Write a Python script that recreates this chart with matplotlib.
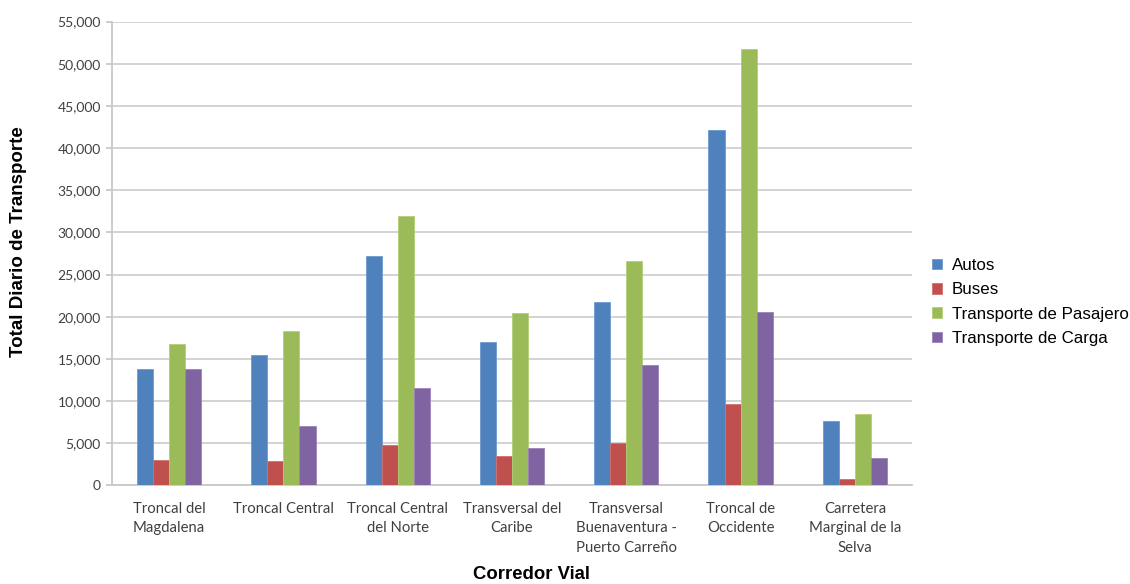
import matplotlib
matplotlib.use("Agg")
import matplotlib.pyplot as plt
import numpy as np
from matplotlib.ticker import FuncFormatter, MultipleLocator

# corredores viales y totales diarios por tipo de vehiculo
corredores = [
    "Troncal del\nMagdalena",
    "Troncal Central",
    "Troncal Central\ndel Norte",
    "Transversal del\nCaribe",
    "Transversal\nBuenaventura -\nPuerto Carreño",
    "Troncal de\nOccidente",
    "Carretera\nMarginal de la\nSelva",
]
autos = [13800, 15400, 27200, 17000, 21700, 42200, 7600]
buses = [3050, 2850, 4800, 3450, 5000, 9600, 750]
pasajero = [16750, 18300, 31950, 20400, 26600, 51750, 8450]
carga = [13800, 7000, 11600, 4400, 14250, 20500, 3250]

series = ["Autos", "Buses", "Transporte de Pasajero", "Transporte de Carga"]
colores = ["#4F81BD", "#C0504D", "#9BBB59", "#8064A2"]
bordes = ["#6F9BD1", "#D26F6C", "#B1CF77", "#9A82BA"]

fig = plt.figure(figsize=(11.3, 5.84), dpi=100)
ax = fig.add_axes([0.0991, 0.169, 0.708, 0.794])

x = np.arange(len(corredores))
ancho = 0.1406
for i, (vals, c, b, nombre) in enumerate(zip([autos, buses, pasajero, carga], colores, bordes, series)):
    ax.bar(x + (i - 1.5) * ancho, vals, ancho, color=c, edgecolor=b, linewidth=0.6,
           label=nombre, zorder=3)

ax.set_xlim(-0.5, len(corredores) - 0.5)
ax.set_ylim(0, 55000)
ax.yaxis.set_major_locator(MultipleLocator(5000))
ax.yaxis.set_major_formatter(FuncFormatter(lambda v, p: f"{int(v):,}"))
ax.grid(axis="y", color="#D0D0D0", linewidth=1.3, zorder=0)

for s in ["top", "right"]:
    ax.spines[s].set_visible(False)
for s in ["left", "bottom"]:
    ax.spines[s].set_color("#C8C8C8")
    ax.spines[s].set_linewidth(1.3)

fuente_ticks = ["Lato", "DejaVu Sans"]
ax.set_xticks(x)
ax.set_xticklabels(corredores, family=fuente_ticks, fontsize=10.7, color="#404040",
                   linespacing=1.5, va="top")
ax.tick_params(axis="x", length=0, pad=12)
ax.tick_params(axis="y", length=4, width=1.3, color="#C8C8C8", pad=4,
               labelsize=10, labelcolor="#404040")
for t in ax.get_yticklabels():
    t.set_family(fuente_ticks)

# titulos de los ejes en posicion fija de la figura
fig.text(0.016, 0.587, "Total Diario de Transporte", family="Liberation Sans",
         fontsize=13.5, fontweight="bold", rotation=90, ha="center", va="center")
fig.text(0.47, 0.017, "Corredor Vial", family="Liberation Sans",
         fontsize=13.3, fontweight="bold", ha="center", va="center")

fig.legend(loc="center left", bbox_to_anchor=(0.8248, 0.483), frameon=False,
           prop={"family": "Liberation Sans", "size": 12.2}, handlelength=0.6,
           handleheight=0.6, handletextpad=0.55, labelspacing=0.55,
           borderpad=0, borderaxespad=0)

fig.savefig("out.png", dpi=100)
